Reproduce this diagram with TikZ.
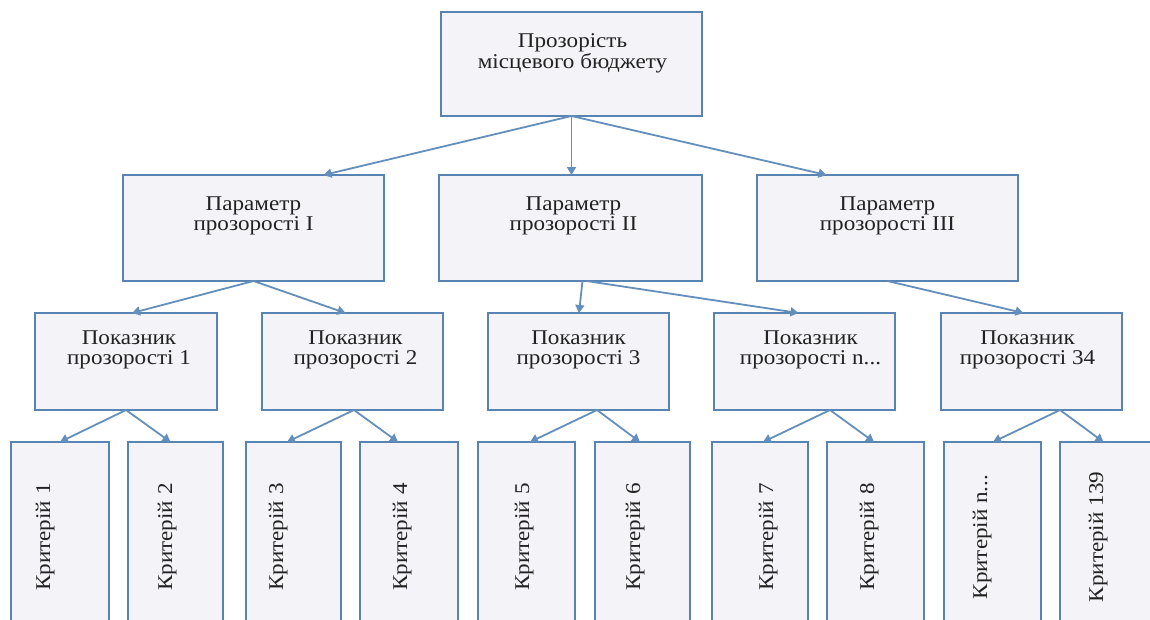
\documentclass[tikz,border=0pt]{standalone}
\usepackage{fontspec}
\setmainfont{Liberation Serif}[FakeStretch=1.1]
\usetikzlibrary{arrows.meta,calc}
\definecolor{bordc}{RGB}{88,132,180}
\definecolor{arrc}{RGB}{100,143,188}
\definecolor{boxfill}{RGB}{243,243,248}
\definecolor{txtc}{RGB}{34,34,34}
\tikzset{
  boxnode/.style={draw=bordc, fill=boxfill, line width=1.9pt, inner sep=0pt, outer sep=0pt, anchor=north west},
  txt/.style={text=txtc, inner sep=0pt, align=center, font=\fontsize{21pt}{19.5pt}\selectfont},
  conn/.style={draw=arrc, line width=1.8pt, -{Triangle[length=8pt,width=9pt]}}
}
\begin{document}
\begin{tikzpicture}[x=1pt,y=-1pt]
\useasboundingbox (0,0) rectangle (1150,619);
\clip (0,0) rectangle (1150,619);
% level 1
\node[boxnode, minimum width=261, minimum height=104] (top) at (441,12) {};
% level 2
\node[boxnode, minimum width=261, minimum height=106] (p1) at (123,175) {};
\node[boxnode, minimum width=263, minimum height=106] (p2) at (439,175) {};
\node[boxnode, minimum width=261, minimum height=106] (p3) at (757,175) {};
% level 3
\node[boxnode, minimum width=182, minimum height=97] (b1) at (35,313) {};
\node[boxnode, minimum width=181, minimum height=97] (b2) at (262,313) {};
\node[boxnode, minimum width=181, minimum height=97] (b3) at (488,313) {};
\node[boxnode, minimum width=181, minimum height=97] (bn) at (714,313) {};
\node[boxnode, minimum width=181, minimum height=97] (b34) at (941,313) {};
% level 4
\node[boxnode, minimum width=98, minimum height=200] (c1) at (11,442) {};
\node[boxnode, minimum width=95, minimum height=200] (c2) at (128,442) {};
\node[boxnode, minimum width=95, minimum height=200] (c3) at (246,442) {};
\node[boxnode, minimum width=98, minimum height=200] (c4) at (360,442) {};
\node[boxnode, minimum width=97, minimum height=200] (c5) at (478,442) {};
\node[boxnode, minimum width=95, minimum height=200] (c6) at (595,442) {};
\node[boxnode, minimum width=96, minimum height=200] (c7) at (712,442) {};
\node[boxnode, minimum width=97, minimum height=200] (c8) at (827,442) {};
\node[boxnode, minimum width=97, minimum height=200] (cn) at (944,442) {};
\node[boxnode, minimum width=97, minimum height=200] (c139) at (1060,442) {};
% texts (base anchor = baseline of the last line)
\node[txt, anchor=base] (t0) at ($(top.north)+(1,56)$) {Прозорість\\місцевого бюджету};
\node[txt, anchor=base] (tp1) at ($(p1.north)+(0,55)$) {Параметр\\прозорості I};
\node[txt, anchor=base] (tp2) at ($(p2.north)+(3,55)$) {Параметр\\прозорості II};
\node[txt, anchor=base] (tp3) at ($(p3.north)+(0,55)$) {Параметр\\прозорості III};
\node[txt, anchor=base] (tb1) at ($(b1.north)+(3,51)$) {Показник\\прозорості 1};
\node[txt, anchor=base] (tb2) at ($(b2.north)+(3,51)$) {Показник\\прозорості 2};
\node[txt, anchor=base] (tb3) at ($(b3.north)+(0,51)$) {Показник\\прозорості 3};
\node[txt, anchor=base] (tbn) at ($(bn.north)+(6,51)$) {Показник\\прозорості n...};
\node[txt, anchor=base] (tb34) at ($(b34.north)+(-4,51)$) {Показник\\прозорості 34};
\node[txt, rotate=90, anchor=base] (k1) at (50,537) {Критерій 1};
\node[txt, rotate=90, anchor=base] (k2) at (172,537) {Критерій 2};
\node[txt, rotate=90, anchor=base] (k3) at (283,537) {Критерій 3};
\node[txt, rotate=90, anchor=base] (k4) at (407,537) {Критерій 4};
\node[txt, rotate=90, anchor=base] (k5) at (529,537) {Критерій 5};
\node[txt, rotate=90, anchor=base] (k6) at (640,537) {Критерій 6};
\node[txt, rotate=90, anchor=base] (k7) at (773,537) {Критерій 7};
\node[txt, rotate=90, anchor=base] (k8) at (874,537) {Критерій 8};
\node[txt, rotate=90, anchor=base] (kn) at (987,537) {Критерій n...};
\node[txt, rotate=90, anchor=base] (k139) at (1103,537) {Критерій 139};
% connectors level 1 -> 2
\draw[conn] (top.south) -- ($(p1.north)+(70,0)$);
\draw[conn] (top.south) -- (top.south |- p2.north);
\draw[conn] (top.south) -- ($(p3.north)+(-61,0)$);
% level 2 -> 3
\draw[conn] (p1.south) -- ($(b1.north)+(6,0)$);
\draw[conn] (p1.south) -- ($(b2.north)+(-7,0)$);
\draw[conn] ($(p2.south)+(12,0)$) -- ($(b3.north)+(0.5,0)$);
\draw[conn] ($(p2.south)+(16,0)$) -- ($(bn.north)+(-6,0)$);
\draw[conn] (p3.south) -- ($(b34.north)+(-8,0)$);
% level 3 -> 4
\draw[conn] (b1.south) -- (c1.north);
\draw[conn] (b1.south) -- ($(c2.north)+(-5,0)$);
\draw[conn] ($(b2.south)+(1.5,0)$) -- ($(c3.north)+(-6.5,0)$);
\draw[conn] ($(b2.south)+(1.5,0)$) -- ($(c4.north)+(-11,0)$);
\draw[conn] ($(b3.south)+(18.5,0)$) -- ($(c5.north)+(3.5,0)$);
\draw[conn] ($(b3.south)+(18.5,0)$) -- ($(c6.north)+(-2.5,0)$);
\draw[conn] ($(bn.south)+(25.5,0)$) -- ($(c7.north)+(3,0)$);
\draw[conn] ($(bn.south)+(25.5,0)$) -- ($(c8.north)+(-1.5,0)$);
\draw[conn] ($(b34.south)+(28.5,0)$) -- ($(cn.north)+(0.5,0)$);
\draw[conn] ($(b34.south)+(28.5,0)$) -- ($(c139.north)+(-5,0)$);
\end{tikzpicture}
\end{document}
